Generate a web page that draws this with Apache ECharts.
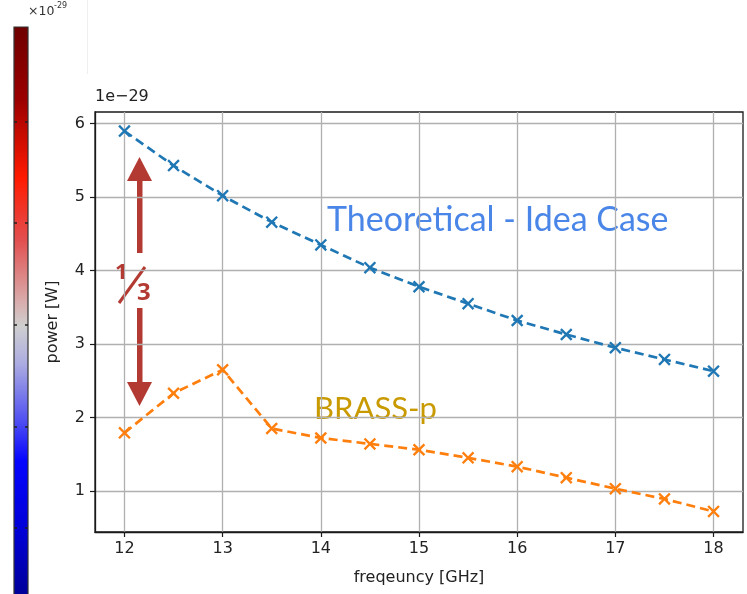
<!DOCTYPE html>
<html>
<head>
<meta charset="utf-8">
<script src="https://cdn.jsdelivr.net/npm/echarts@6/dist/echarts.min.js"></script>
<style>
html,body{margin:0;padding:0;background:#fff;}
#chart{width:747px;height:594px;}
</style>
</head>
<body>
<div id="chart"></div>
<script>
// ---- data ----
const freqs = [12, 12.5, 13, 13.5, 14, 14.5, 15, 15.5, 16, 16.5, 17, 17.5, 18];
const theoretical = [5.90, 5.43, 5.02, 4.66, 4.35, 4.04, 3.78, 3.55, 3.32, 3.13, 2.95, 2.79, 2.63];
const brass = [1.79, 2.33, 2.65, 1.85, 1.72, 1.64, 1.56, 1.45, 1.33, 1.18, 1.03, 0.89, 0.72];
const xTicks = [12, 13, 14, 15, 16, 17, 18];
const yTicks = [1, 2, 3, 4, 5, 6];
const seriesNames = ['Theoretical - Idea Case', 'BRASS-p'];

const XMARK = 'path://M0,1.6L1.6,0L6,4.4L10.4,0L12,1.6L7.6,6L12,10.4L10.4,12L6,7.6L1.6,12L0,10.4L4.4,6Z';
const FONT = 'DejaVu Sans';
const ARROW = '#b33a32';

function pairs(ys){ return freqs.map((f,i)=>[f, ys[i]]); }

const chart = echarts.init(document.getElementById('chart'), null, {renderer:'canvas'});

const axisCommon = {
  type: 'value',
  axisLine: {show: true, lineStyle: {color: '#1a1a1a', width: 1.3}},
  axisTick: {show: true, inside: false, length: 5, lineStyle: {color: '#1a1a1a', width: 1.2}},
  axisLabel: {fontFamily: FONT, fontSize: 16, color: '#222'},
  splitLine: {show: true, lineStyle: {color: '#b0b0b0', width: 1.3}},
  nameTextStyle: {fontFamily: FONT, fontSize: 16, color: '#222'}
};

chart.setOption({
  animation: false,
  backgroundColor: '#fff',
  grid: {left: 95, top: 112, width: 648, height: 420, show: true, borderColor: '#1a1a1a', borderWidth: 1.3, backgroundColor: 'transparent'},
  xAxis: Object.assign({}, axisCommon, {
    min: 11.7, max: 18.3,
    name: 'freqeuncy [GHz]', nameLocation: 'middle', nameGap: 38,
    axisTick: Object.assign({}, axisCommon.axisTick, {customValues: xTicks}),
    axisLabel: Object.assign({}, axisCommon.axisLabel, {customValues: xTicks, margin: 9})
  }),
  yAxis: Object.assign({}, axisCommon, {
    min: 0.44, max: 6.16,
    name: 'power [W]', nameLocation: 'middle', nameGap: 34,
    axisTick: Object.assign({}, axisCommon.axisTick, {customValues: yTicks}),
    axisLabel: Object.assign({}, axisCommon.axisLabel, {customValues: yTicks, margin: 10})
  }),
  series: [
    {
      name: seriesNames[0], type: 'line', data: pairs(theoretical),
      symbol: XMARK, symbolSize: 12.5, showAllSymbol: true,
      itemStyle: {color: '#1f77b4'},
      lineStyle: {color: '#1f77b4', width: 2.7, type: [9, 5]}
    },
    {
      name: seriesNames[1], type: 'line', data: pairs(brass),
      symbol: XMARK, symbolSize: 12.5, showAllSymbol: true,
      itemStyle: {color: '#ff7f0e'},
      lineStyle: {color: '#ff7f0e', width: 2.7, type: [9, 5]}
    }
  ],
  graphic: [
    // faint line top-left
    {type: 'line', shape: {x1: 87.5, y1: 0, x2: 87.5, y2: 74}, style: {stroke: '#efefef', lineWidth: 1}, silent: true},
    // colorbar
    {type: 'rect', shape: {x: 14, y: 27, width: 14, height: 570},
      style: {
        fill: new echarts.graphic.LinearGradient(0, 0, 0, 1, [
          {offset: 0, color: '#6e0000'},
          {offset: 0.13, color: '#9c0000'},
          {offset: 0.265, color: '#ff1a00'},
          {offset: 0.375, color: '#e25050'},
          {offset: 0.48, color: '#d9abab'},
          {offset: 0.525, color: '#cfcfcf'},
          {offset: 0.59, color: '#acacE2'},
          {offset: 0.69, color: '#5050f2'},
          {offset: 0.76, color: '#0505ff'},
          {offset: 0.89, color: '#0000d4'},
          {offset: 1, color: '#000096'}
        ]),
        stroke: '#333', lineWidth: 1.2
      }, silent: true},
    ...[122, 223, 325, 427, 528].flatMap(y => [
      {type: 'line', shape: {x1: 14, y1: y, x2: 17, y2: y}, style: {stroke: '#222', lineWidth: 1.5}, silent: true},
      {type: 'line', shape: {x1: 25, y1: y, x2: 28, y2: y}, style: {stroke: '#222', lineWidth: 1.5}, silent: true}
    ]),
    {type: 'text', left: 28, top: 5, style: {text: '×10', fontFamily: FONT, fontSize: 12.5, fill: '#333'}, silent: true},
    {type: 'text', left: 54, top: 2, style: {text: '-29', fontFamily: FONT, fontSize: 8, fill: '#333'}, silent: true},
    // offset text
    {type: 'text', left: 95, top: 89, style: {text: '1e\u221229', fontFamily: FONT, fontSize: 16, fill: '#222'}, silent: true},
    // annotations
    {type: 'text', left: 327, top: 203, style: {text: 'Theoretical - Idea Case', fontFamily: 'Lato', fontSize: 34, fill: '#4a86e8'}, silent: true},
    {type: 'text', left: 314, top: 393, style: {text: 'BRASS-p', fontFamily: 'Lato', fontSize: 31, fill: '#c99a00'}, silent: true},
    // up arrow
    {type: 'polygon', shape: {points: [[127, 181], [139.5, 157], [152, 181]]}, style: {fill: ARROW}, silent: true},
    {type: 'rect', shape: {x: 137, y: 180, width: 5.5, height: 73}, style: {fill: ARROW}, silent: true},
    // down arrow
    {type: 'rect', shape: {x: 137, y: 308, width: 5.5, height: 75}, style: {fill: ARROW}, silent: true},
    {type: 'polygon', shape: {points: [[127, 382], [139.5, 406], [152, 382]]}, style: {fill: ARROW}, silent: true},
    // 1/3 fraction
    {type: 'text', left: 115, top: 262, z: 100, style: {text: '1', fontFamily: 'Noto Sans', fontWeight: 'bold', fontSize: 22, fill: ARROW}, silent: true},
    {type: 'line', shape: {x1: 119, y1: 303, x2: 145, y2: 267}, style: {stroke: ARROW, lineWidth: 3}, silent: true},
    {type: 'text', left: 137, top: 281, z: 100, style: {text: '3', fontFamily: 'Noto Sans', fontWeight: 'bold', fontSize: 24, fill: ARROW}, silent: true}
  ]
});
</script>
</body>
</html>
